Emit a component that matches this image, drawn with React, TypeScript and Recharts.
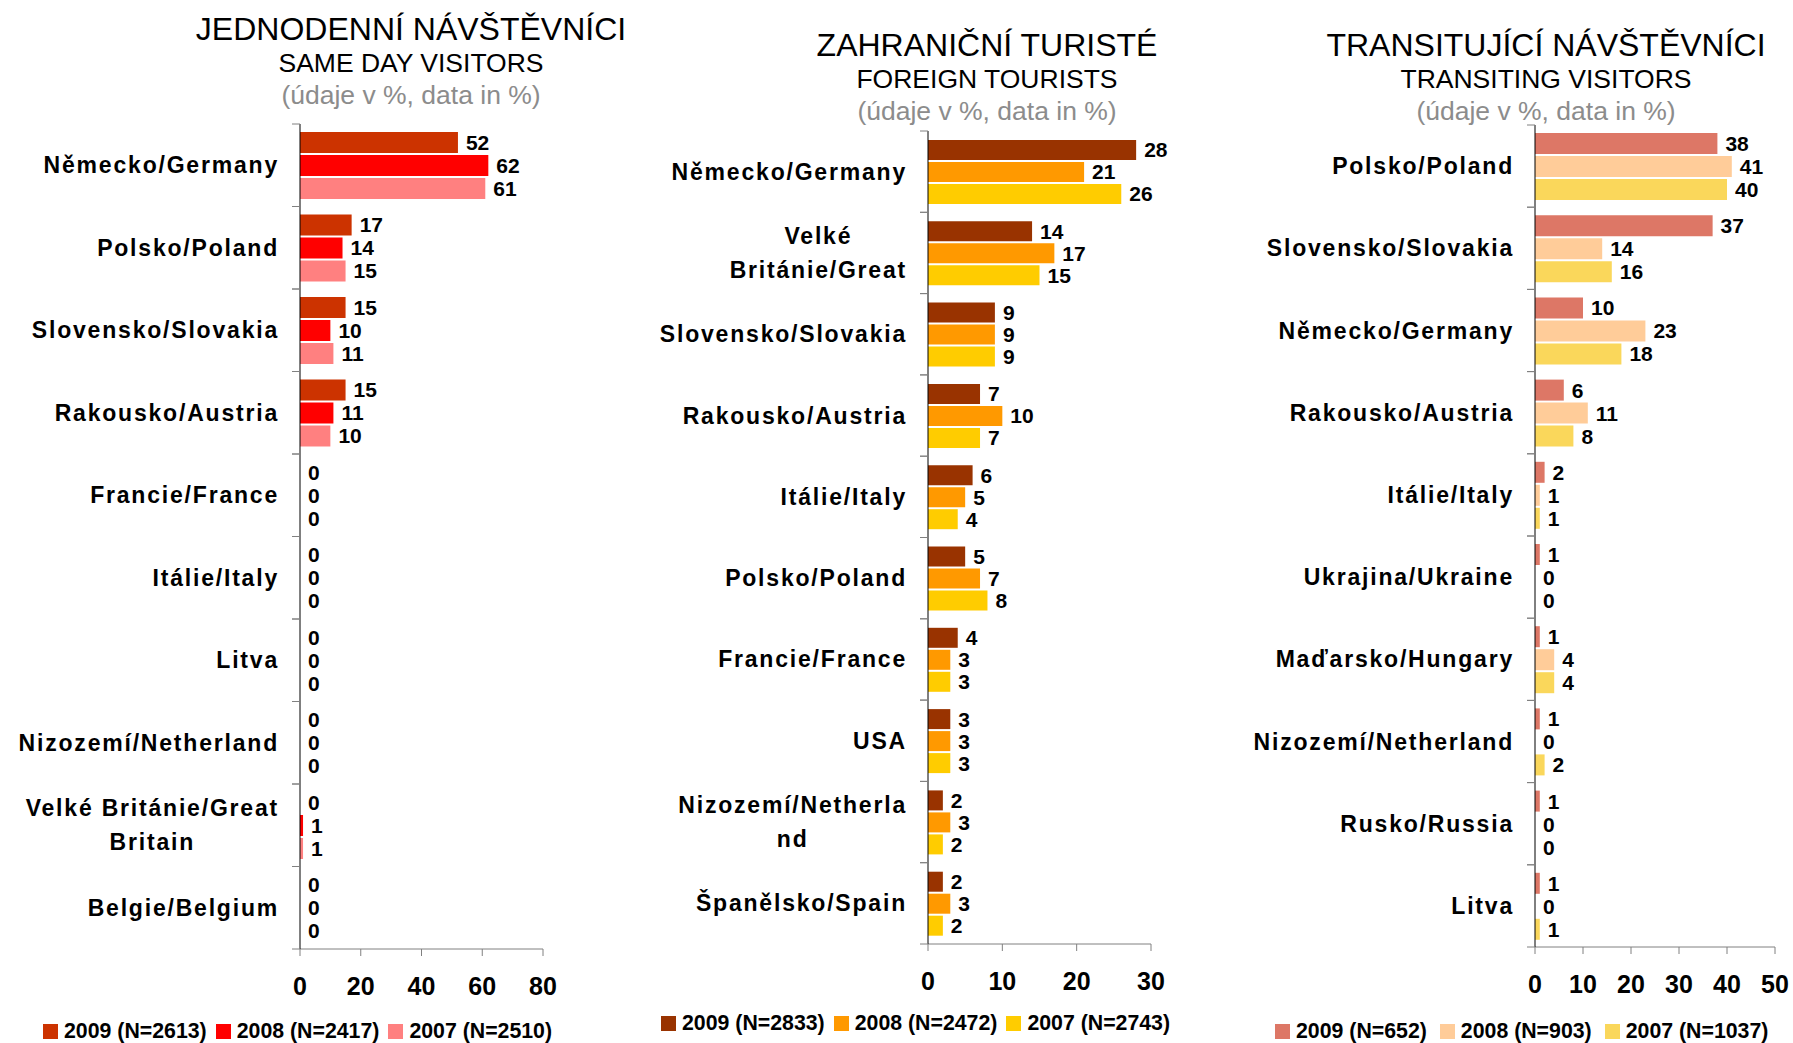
import React from "react";
import { BarChart, Bar, XAxis, YAxis, LabelList } from "recharts";

// JEDNODENNÍ NÁVŠTĚVNÍCI / SAME DAY VISITORS
const dayCountries = [
  "Německo/Germany",
  "Polsko/Poland",
  "Slovensko/Slovakia",
  "Rakousko/Austria",
  "Francie/France",
  "Itálie/Italy",
  "Litva",
  "Nizozemí/Netherland",
  "Velké Británie/Great\nBritain",
  "Belgie/Belgium",
];
const day2009 = [52, 17, 15, 15, 0, 0, 0, 0, 0, 0];
const day2008 = [62, 14, 10, 11, 0, 0, 0, 0, 1, 0];
const day2007 = [61, 15, 11, 10, 0, 0, 0, 0, 1, 0];
const dayTicks = [0, 20, 40, 60, 80];
const dayLegend = ["2009 (N=2613)", "2008 (N=2417)", "2007 (N=2510)"];

// ZAHRANIČNÍ TURISTÉ / FOREIGN TOURISTS
const foreignCountries = [
  "Německo/Germany",
  "Velké\nBritánie/Great",
  "Slovensko/Slovakia",
  "Rakousko/Austria",
  "Itálie/Italy",
  "Polsko/Poland",
  "Francie/France",
  "USA",
  "Nizozemí/Netherla\nnd",
  "Španělsko/Spain",
];
const foreign2009 = [28, 14, 9, 7, 6, 5, 4, 3, 2, 2];
const foreign2008 = [21, 17, 9, 10, 5, 7, 3, 3, 3, 3];
const foreign2007 = [26, 15, 9, 7, 4, 8, 3, 3, 2, 2];
const foreignTicks = [0, 10, 20, 30];
const foreignLegend = ["2009 (N=2833)", "2008 (N=2472)", "2007 (N=2743)"];

// TRANSITUJÍCÍ NÁVŠTĚVNÍCI / TRANSITING VISITORS
const transitCountries = [
  "Polsko/Poland",
  "Slovensko/Slovakia",
  "Německo/Germany",
  "Rakousko/Austria",
  "Itálie/Italy",
  "Ukrajina/Ukraine",
  "Maďarsko/Hungary",
  "Nizozemí/Netherland",
  "Rusko/Russia",
  "Litva",
];
const transit2009 = [38, 37, 10, 6, 2, 1, 1, 1, 1, 1];
const transit2008 = [41, 14, 23, 11, 1, 0, 4, 0, 0, 0];
const transit2007 = [40, 16, 18, 8, 1, 0, 4, 2, 0, 1];
const transitTicks = [0, 10, 20, 30, 40, 50];
const transitLegend = ["2009 (N=652)", "2008 (N=903)", "2007 (N=1037)"];

const FONT = "'Liberation Sans', Arial, sans-serif";
const PAGE_H = 1043;
const XAXIS_H = 60;
const CAT_FONT = 23;
const CAT_SPACING = 1.8;

let measureCtx: CanvasRenderingContext2D | null = null;
function textWidth(s: string) {
  if (!measureCtx) measureCtx = document.createElement("canvas").getContext("2d");
  if (!measureCtx) return s.length * 13;
  measureCtx.font = `bold ${CAT_FONT}px ${FONT}`;
  return measureCtx.measureText(s).width + CAT_SPACING * s.length;
}

function toRows(names: string[], a: number[], b: number[], c: number[]) {
  return names.map((name, i) => ({ name, y2009: a[i], y2008: b[i], y2007: c[i] }));
}

const panels = [
  {
    key: "day",
    rows: toRows(dayCountries, day2009, day2008, day2007),
    ticks: dayTicks,
    legend: dayLegend,
    colors: ["#CC3300", "#FF0000", "#FF8080"],
    title: ["JEDNODENNÍ NÁVŠTĚVNÍCI", "SAME DAY VISITORS"],
    titleX: 411,
    titleY: 40,
    left: 0,
    width: 600,
    plotLeft: 300,
    plotRight: 543,
    plotTop: 124,
    plotBottom: 949,
    barSize: 21,
    legendX: 43,
    legendY: 1031,
    legendGap: 9,
  },
  {
    key: "foreign",
    rows: toRows(foreignCountries, foreign2009, foreign2008, foreign2007),
    ticks: foreignTicks,
    legend: foreignLegend,
    colors: ["#993300", "#FF9900", "#FFCC00"],
    title: ["ZAHRANIČNÍ TURISTÉ", "FOREIGN TOURISTS"],
    titleX: 987,
    titleY: 56,
    left: 600,
    width: 600,
    plotLeft: 928,
    plotRight: 1151,
    plotTop: 131,
    plotBottom: 944,
    barSize: 20,
    legendX: 661,
    legendY: 1023,
    legendGap: 9,
  },
  {
    key: "transit",
    rows: toRows(transitCountries, transit2009, transit2008, transit2007),
    ticks: transitTicks,
    legend: transitLegend,
    colors: ["#DD7766", "#FFCC99", "#FAD75B"],
    title: ["TRANSITUJÍCÍ NÁVŠTĚVNÍCI", "TRANSITING VISITORS"],
    titleX: 1546,
    titleY: 56,
    left: 1200,
    width: 593,
    plotLeft: 1535,
    plotRight: 1775,
    plotTop: 125,
    plotBottom: 947,
    barSize: 21,
    legendX: 1275,
    legendY: 1031,
    legendGap: 13,
  },
];

function makeCategoryTick(axisX: number, band: number) {
  return function CategoryTick(props: any) {
    const { y, payload } = props;
    const lines = String(payload.value).split("\n");
    const right = axisX - 21;
    const maxW = Math.max(...lines.map(textWidth));
    const lh = 34;
    const startY = y - ((lines.length - 1) * lh) / 2;
    return (
      <g>
        <line x1={axisX - 8} x2={axisX} y1={y - band / 2} y2={y - band / 2} stroke="#808080" />
        <line x1={axisX - 8} x2={axisX} y1={y + band / 2} y2={y + band / 2} stroke="#808080" />
        {lines.map((ln, i) => (
          <text
            key={i}
            x={lines.length > 1 ? right - maxW / 2 : right}
            y={startY + i * lh}
            textAnchor={lines.length > 1 ? "middle" : "end"}
            dominantBaseline="central"
            fontSize={CAT_FONT}
            fontWeight="bold"
            letterSpacing={CAT_SPACING}
            fill="#000"
          >
            {ln}
          </text>
        ))}
      </g>
    );
  };
}

function makeValueTick(axisY: number) {
  return function ValueTick(props: any) {
    const { x, payload } = props;
    return (
      <text
        x={x}
        y={axisY + 37}
        textAnchor="middle"
        dominantBaseline="central"
        fontSize={25}
        fontWeight="bold"
        fill="#000"
      >
        {payload.value}
      </text>
    );
  };
}

function Panel({ p }: { p: (typeof panels)[number] }) {
  const band = (p.plotBottom - p.plotTop) / p.rows.length;
  const keys = ["y2009", "y2008", "y2007"];
  return (
    <div style={{ position: "absolute", left: p.left, top: 0 }}>
      <BarChart
        width={p.width}
        height={PAGE_H}
        data={p.rows}
        layout="vertical"
        barGap={2}
        margin={{
          top: p.plotTop,
          right: p.left + p.width - p.plotRight,
          bottom: PAGE_H - p.plotBottom - XAXIS_H,
          left: 0,
        }}
      >
        <XAxis
          type="number"
          domain={[0, p.ticks[p.ticks.length - 1]]}
          ticks={p.ticks}
          interval={0}
          height={XAXIS_H}
          axisLine={{ stroke: "#808080" }}
          tickLine={{ stroke: "#808080" }}
          tickSize={7}
          tick={makeValueTick(p.plotBottom)}
        />
        <YAxis
          type="category"
          dataKey="name"
          width={p.plotLeft - p.left}
          interval={0}
          axisLine={{ stroke: "#000" }}
          tickLine={false}
          tick={makeCategoryTick(p.plotLeft - p.left, band)}
        />
        {keys.map((k, i) => (
          <Bar
            key={k}
            dataKey={k}
            fill={p.colors[i]}
            barSize={p.barSize}
            minPointSize={0.001}
            isAnimationActive={false}
          >
            <LabelList
              dataKey={k}
              position="right"
              offset={8}
              fill="#000"
              fontSize={21}
              fontWeight="bold"
            />
          </Bar>
        ))}
      </BarChart>
    </div>
  );
}

export default function App() {
  return (
    <div
      style={{
        position: "absolute",
        left: 0,
        top: 0,
        width: 1793,
        height: PAGE_H,
        background: "#fff",
        fontFamily: FONT,
        overflow: "hidden",
      }}
    >
      {panels.map((p) => (
        <Panel key={p.key} p={p} />
      ))}
      <svg
        width={1793}
        height={PAGE_H}
        style={{ position: "absolute", left: 0, top: 0, pointerEvents: "none" }}
      >
        {panels.map((p) => (
          <g key={p.key} fontFamily={FONT} textAnchor="middle">
            <text x={p.titleX} y={p.titleY} fontSize={32} fill="#000">
              {p.title[0]}
            </text>
            <text x={p.titleX} y={p.titleY + 32} fontSize={26.5} fill="#000">
              {p.title[1]}
            </text>
            <text x={p.titleX} y={p.titleY + 64} fontSize={26.5} fill="#8c8c8c">
              (údaje v %, data in %)
            </text>
          </g>
        ))}
      </svg>
      {panels.map((p) => (
        <div
          key={p.key + "-legend"}
          style={{
            position: "absolute",
            left: p.legendX,
            top: p.legendY - 13,
            height: 26,
            display: "flex",
            alignItems: "center",
            gap: p.legendGap,
            fontSize: 21.3,
            fontWeight: "bold",
            whiteSpace: "nowrap",
          }}
        >
          {p.legend.map((label, i) => (
            <div key={label} style={{ display: "flex", alignItems: "center", gap: 6 }}>
              <span style={{ width: 15, height: 15, background: p.colors[i], display: "inline-block" }} />
              <span>{label}</span>
            </div>
          ))}
        </div>
      ))}
    </div>
  );
}
